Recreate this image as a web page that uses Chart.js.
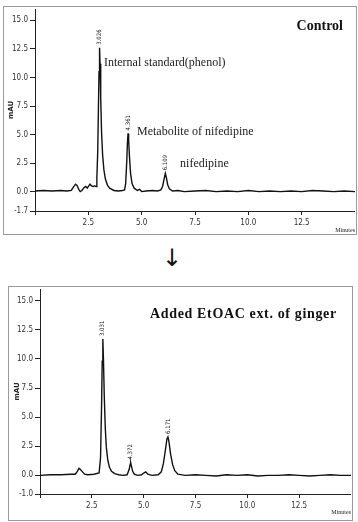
<!DOCTYPE html>
<html>
<head>
<meta charset="utf-8">
<script src="https://cdn.jsdelivr.net/npm/chart.js@4/dist/chart.umd.min.js"></script>
<style>
  body { margin: 0; background: #fff; width: 358px; height: 522px; position: relative; overflow: hidden; }
  .panel { position: absolute; border: 1px solid #9a9a9a; box-sizing: border-box; }
  canvas { position: absolute; }
  .title { position: absolute; font-family: "Liberation Serif", "DejaVu Serif", serif; font-weight: bold; color: #111; white-space: nowrap; }
  #arrow { position: absolute; left: 162px; top: 244px; font: 24px "DejaVu Sans", sans-serif; color: #111; }
</style>
</head>
<body>
<div class="panel" style="left:3px; top:6px; width:354px; height:229px;"></div>
<div class="panel" style="left:8px; top:286px; width:345px; height:235px;"></div>
<canvas id="top" width="351" height="226" style="left:4px; top:8px;"></canvas>
<canvas id="bottom" width="341" height="231" style="left:10px; top:288px;"></canvas>
<div class="title" style="right:15px; top:18px; font-size:14px;">Control</div>
<div class="title" style="left:150px; top:306px; font-size:14px; letter-spacing:0.65px;">Added EtOAC ext. of ginger</div>
<div id="arrow">↓</div>
<script>
// retention time (min) / absorbance (mAU)
var topTime = [0, 0.4, 0.8, 1.2, 1.5, 1.7, 1.8, 1.9, 1.97, 2.05, 2.12, 2.2, 2.3, 2.38, 2.45, 2.52, 2.58, 2.65, 2.72, 2.8, 2.86,
  2.9, 2.94, 2.97, 3.0, 3.026, 3.05, 3.08, 3.12, 3.17, 3.23, 3.3, 3.4, 3.5, 3.7, 3.9, 4.1, 4.2, 4.25, 4.3, 4.33, 4.361,
  4.39, 4.43, 4.48, 4.55, 4.65, 4.8, 4.9, 5.0, 5.2, 5.5, 5.75, 5.9, 5.98, 6.04, 6.109, 6.16, 6.22, 6.3, 6.45, 6.7, 7.0,
  7.5, 8.0, 8.5, 9.0, 9.5, 10.0, 10.5, 11.0, 11.5, 12.0, 12.5, 13.0, 13.5, 14.0, 14.5, 15.0];
var topValue = [0.05, 0.1, 0.05, 0.1, 0.05, 0.1, 0.4, 0.65, 0.55, 0.2, 0.0, 0.1, 0.35, 0.45, 0.3, 0.5, 0.65, 0.5, 0.45, 0.5, 0.45,
  1.2, 3.5, 7.0, 10.5, 12.6, 11.2, 8.2, 5.2, 3.2, 1.9, 1.1, 0.55, 0.3, 0.1, 0.05, 0.1, 0.15, 0.7, 2.6, 4.2, 5.1,
  4.5, 3.0, 1.6, 0.7, 0.3, 0.1, 0.2, 0.0, 0.05, 0.1, 0.05, 0.15, 0.45, 1.0, 1.6, 1.2, 0.6, 0.25, 0.05, 0.1, 0.0,
  0.05, 0.1, 0.0, 0.05, 0.0, 0.1, 0.0, 0.05, 0.0, 0.05, 0.0, 0.1, 0.05, 0.0, 0.05, 0.0];

var botTime = [0, 0.5, 1.0, 1.5, 1.7, 1.8, 1.88, 1.95, 2.05, 2.15, 2.3, 2.6, 2.85, 2.92, 2.97, 3.0, 3.031, 3.06, 3.1, 3.15,
  3.2, 3.27, 3.35, 3.45, 3.6, 3.8, 4.0, 4.2, 4.3, 4.35, 4.372, 4.41, 4.47, 4.55, 4.7, 4.9, 5.0, 5.1, 5.2, 5.4, 5.7, 5.85,
  5.95, 6.05, 6.12, 6.171, 6.22, 6.3, 6.4, 6.5, 6.65, 7.0, 7.5, 8.0, 8.5, 9.0, 9.5, 10.0, 10.5, 11.0, 11.5, 12.0, 12.5,
  13.0, 13.5, 14.0, 14.5, 15.0];
var botValue = [0.0, 0.05, 0.05, 0.1, 0.1, 0.35, 0.6, 0.5, 0.3, 0.1, 0.05, 0.1, 0.2, 1.5, 6.0, 9.8, 11.7, 10.0, 6.8, 4.0,
  2.4, 1.3, 0.7, 0.35, 0.15, 0.05, 0.0, 0.05, 0.5, 0.95, 1.1, 0.8, 0.35, 0.1, 0.0, 0.05, 0.2, 0.3, 0.1, 0.0, 0.05, 0.3,
  1.0, 2.2, 3.1, 3.3, 2.9, 1.8, 0.9, 0.4, 0.1, 0.0, 0.05, 0.0, -0.05, 0.05, 0.0, 0.05, -0.05, 0.0, 0.0, 0.05, 0.0,
  -0.05, 0.0, 0.05, 0.0, 0.0];

var topPeaks = [3.026, 4.361, 6.109];
var botPeaks = [3.031, 4.372, 6.171];

var xTicks = [0, 2.5, 5.0, 7.5, 10.0, 12.5, 15.0];
var xTickLabels = ["", "2.5", "5.0", "7.5", "10.0", "12.5", ""];
var topYTicks = [-1.7, 0, 2.5, 5.0, 7.5, 10.0, 12.5, 15.0];
var topYLabels = ["-1.7", "0.0", "2.5", "5.0", "7.5", "10.0", "12.5", "15.0"];
var botYTicks = [-1.6, 0, 2.5, 5.0, 7.5, 10.0, 12.5, 15.0];
var botYLabels = ["-1.0", "0.0", "2.5", "5.0", "7.5", "10.0", "12.5", "15.0"];

var topNotes = ["Internal standard(phenol)", "Metabolite of nifedipine", "nifedipine"];

var tickFont = { family: '"Liberation Sans Narrow", "DejaVu Sans Condensed", sans-serif', size: 8 };

function textPlugin(times, values, peaks, notes, noteAt) {
  return {
    id: 'peakText',
    afterDatasetsDraw: function(chart) {
      var ctx = chart.ctx, xs = chart.scales.x, ys = chart.scales.y;
      ctx.save();
      ctx.fillStyle = '#222';
      ctx.font = '6px "Liberation Sans Narrow", "DejaVu Sans Condensed", sans-serif';
      ctx.textAlign = 'left';
      ctx.textBaseline = 'middle';
      peaks.forEach(function(t) {
        var h = values[times.indexOf(t)];
        ctx.save();
        ctx.translate(xs.getPixelForValue(t), ys.getPixelForValue(h) - 3);
        ctx.rotate(-Math.PI / 2);
        ctx.fillText(t.toFixed(3), 0, 0);
        ctx.restore();
      });
      ctx.font = '12px "Liberation Serif", "DejaVu Serif", serif';
      notes.forEach(function(n, i) {
        ctx.fillText(n, xs.getPixelForValue(noteAt[i][0]), ys.getPixelForValue(noteAt[i][1]));
      });
      ctx.restore();
    }
  };
}

function makeChart(id, times, values, yTicks, yLabels, yMin, yWidth, xHeight, titlePad, minPad, plugin) {
  var pts = times.map(function(t, i) { return { x: t, y: values[i] }; });
  return new Chart(document.getElementById(id), {
    type: 'line',
    data: { datasets: [{ data: pts, borderColor: '#111', borderWidth: 1.4, pointRadius: 0, tension: 0, fill: false }] },
    options: {
      responsive: false,
      animation: false,
      devicePixelRatio: 1,
      layout: { padding: { top: 1, left: 0, right: 0, bottom: 0 } },
      plugins: { legend: { display: false }, tooltip: { enabled: false } },
      scales: {
        x: {
          type: 'linear', min: 0, max: 15,
          afterBuildTicks: function(s) { s.ticks = xTicks.map(function(v) { return { value: v }; }); },
          afterFit: function(s) { s.height = xHeight; s.paddingLeft = 0; s.paddingRight = 0; },
          ticks: { font: tickFont, color: '#333', padding: 3, maxRotation: 0, autoSkip: false,
            callback: function(v, i) { return xTickLabels[i]; } },
          grid: { drawOnChartArea: false, drawTicks: true, tickLength: 4, color: '#222' },
          border: { color: '#222', width: 1 },
          title: { display: true, text: 'Minutes', align: 'end', color: '#222',
            font: { family: '"Liberation Serif", serif', size: 6 }, padding: { top: 0, bottom: minPad } }
        },
        y: {
          type: 'linear', min: yMin, max: 16,
          afterBuildTicks: function(s) { s.ticks = yTicks.map(function(v) { return { value: v }; }); },
          afterFit: function(s) { s.width = yWidth; s.paddingTop = 0; s.paddingBottom = 0; },
          ticks: { font: tickFont, color: '#333', padding: 2, autoSkip: false,
            callback: function(v, i) { return yLabels[i]; } },
          grid: { drawOnChartArea: false, drawTicks: true, tickLength: 5, color: '#222' },
          border: { color: '#222', width: 1 },
          title: { display: true, text: 'mAU', color: '#222',
            font: { family: '"DejaVu Sans", sans-serif', size: 7, weight: 'bold' }, padding: { top: titlePad, bottom: 0 } }
        }
      }
    },
    plugins: [plugin]
  });
}

makeChart('top', topTime, topValue, topYTicks, topYLabels, -1.7, 31, 23, 3, 0,
  textPlugin(topTime, topValue, topPeaks, topNotes, [[3.23, 11.3], [4.78, 5.25], [6.8, 2.45]]));
makeChart('bottom', botTime, botValue, botYTicks, botYLabels, -1.6, 30, 25, 3, 3,
  textPlugin(botTime, botValue, botPeaks, [], []));
</script>
</body>
</html>
